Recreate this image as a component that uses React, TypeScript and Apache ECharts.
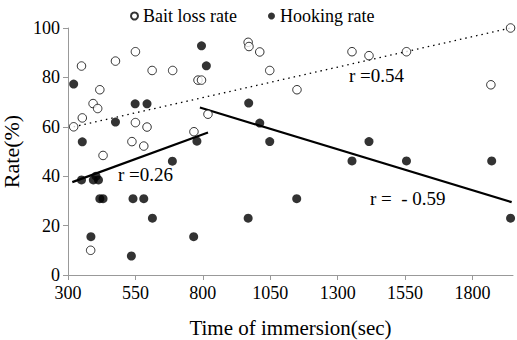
import React, { useEffect, useRef } from "react";
import * as echarts from "echarts";

const xTicks = [300, 550, 800, 1050, 1300, 1550, 1800];

const baitX = [321, 350, 353, 393, 410, 418, 476, 550, 550, 593, 612, 688, 782, 795, 537, 581, 430, 384, 767, 819, 968, 971, 1011, 1048, 1149, 1353, 1416, 1555, 1868, 1941];
const baitY = [60, 84.6, 63.6, 69.4, 67.4, 75, 86.6, 90.4, 61.7, 59.9, 82.8, 82.8, 78.9, 78.9, 54, 52.2, 48.4, 10, 58, 65.1, 94.2, 92.5, 90.3, 82.8, 75, 90.4, 88.8, 90.4, 77, 100];

const hookX = [321, 353, 476, 549, 593, 795, 813, 778, 350, 394, 404, 413, 418, 430, 541, 581, 613, 385, 535, 766, 687, 970, 1011, 1048, 968, 1148, 1353, 1416, 1555, 1871, 1941];
const hookY = [77.3, 53.9, 61.9, 69.3, 69.3, 92.8, 84.7, 54.2, 38.5, 38.5, 40, 38.5, 30.9, 30.9, 30.9, 30.9, 23, 15.5, 7.7, 15.5, 46.1, 69.6, 61.5, 54, 23, 30.9, 46.2, 54, 46.2, 46.2, 23];

const baitTrendX = [321, 1941];
const baitTrendY = [60, 100];
const hookTrend1X = [316, 819];
const hookTrend1Y = [37.6, 57.7];
const hookTrend2X = [789, 1945];
const hookTrend2Y = [67.8, 29.5];

const seriesNames = ["Bait loss rate", "Hooking rate"];
const rLabels = ["r =0.54", "r =0.26", "r =  - 0.59"];

const FONT = "'Liberation Serif', 'Times New Roman', Times, serif";

const zip = (xs: number[], ys: number[]) => xs.map((x, i) => [x, ys[i]]);

export default function App() {
  const ref = useRef<HTMLDivElement>(null);
  useEffect(() => {
    if (!ref.current) return;
    const chart = echarts.init(ref.current, null, { renderer: "svg" });
    const axisColor = "#999";
    chart.setOption({
      animation: false,
      textStyle: { fontFamily: FONT, color: "#000" },
      grid: { left: 68, top: 28, width: 445, height: 247, containLabel: false, outerBoundsMode: "none" },
      legend: {
        data: seriesNames,
        left: 125,
        top: 2,
        itemWidth: 7,
        itemHeight: 7,
        itemGap: 31,
        textStyle: { fontFamily: FONT, fontSize: 18, color: "#000" },
      },
      xAxis: {
        type: "value",
        min: 300,
        max: 1950,
        interval: 250,
        name: "Time of immersion(sec)",
        nameLocation: "middle",
        nameGap: 42.5,
        nameTextStyle: { fontFamily: FONT, fontSize: 21, color: "#000" },
        splitLine: { show: false },
        axisLine: { lineStyle: { color: axisColor } },
        axisTick: { customValues: xTicks, length: 5, lineStyle: { color: axisColor } },
        axisLabel: {
          showMaxLabel: false,
          fontFamily: FONT,
          fontSize: 18,
          color: "#000",
          margin: 9,
          formatter: (v: number) => String(v),
        },
      },
      yAxis: {
        type: "value",
        min: 0,
        max: 100,
        interval: 20,
        name: "Rate(%)",
        nameLocation: "middle",
        nameGap: 32,
        nameTextStyle: { fontFamily: FONT, fontSize: 22, color: "#000" },
        splitLine: { show: false },
        axisLine: { show: true, lineStyle: { color: axisColor } },
        axisTick: { show: true, length: 5, lineStyle: { color: axisColor } },
        axisLabel: {
          fontFamily: FONT,
          fontSize: 18,
          color: "#000",
          margin: 8,
          formatter: (v: number) => String(v),
        },
      },
      series: [
        {
          name: "Bait loss rate trend",
          type: "line",
          data: zip(baitTrendX, baitTrendY),
          symbol: "none",
          lineStyle: { color: "#000", width: 1.3, type: [1.5, 4] },
          z: 1,
        },
        {
          name: "Hooking trend 1",
          type: "line",
          data: zip(hookTrend1X, hookTrend1Y),
          symbol: "none",
          lineStyle: { color: "#000", width: 2.2 },
          z: 1,
        },
        {
          name: "Hooking trend 2",
          type: "line",
          data: zip(hookTrend2X, hookTrend2Y),
          symbol: "none",
          lineStyle: { color: "#000", width: 2.2 },
          z: 1,
        },
        {
          name: seriesNames[0],
          type: "scatter",
          data: zip(baitX, baitY),
          symbol: "circle",
          symbolSize: 8.5,
          itemStyle: { color: "#fff", borderColor: "#000", borderWidth: 1 },
          z: 2,
        },
        {
          name: seriesNames[1],
          type: "scatter",
          data: zip(hookX, hookY),
          symbol: "circle",
          symbolSize: 9,
          itemStyle: { color: "#000" },
          z: 3,
        },
      ],
      graphic: [
        { type: "text", left: 349, top: 66, style: { text: rLabels[0], fontFamily: FONT, fontSize: 19, fill: "#000" } },
        { type: "text", left: 118, top: 165, style: { text: rLabels[1], fontFamily: FONT, fontSize: 19, fill: "#000" } },
        { type: "text", left: 370, top: 189, style: { text: rLabels[2], fontFamily: FONT, fontSize: 19, fill: "#000" } },
      ],
    });
    return () => chart.dispose();
  }, []);
  return <div ref={ref} style={{ position: "absolute", left: 0, top: 0, width: 517, height: 340 }} />;
}
